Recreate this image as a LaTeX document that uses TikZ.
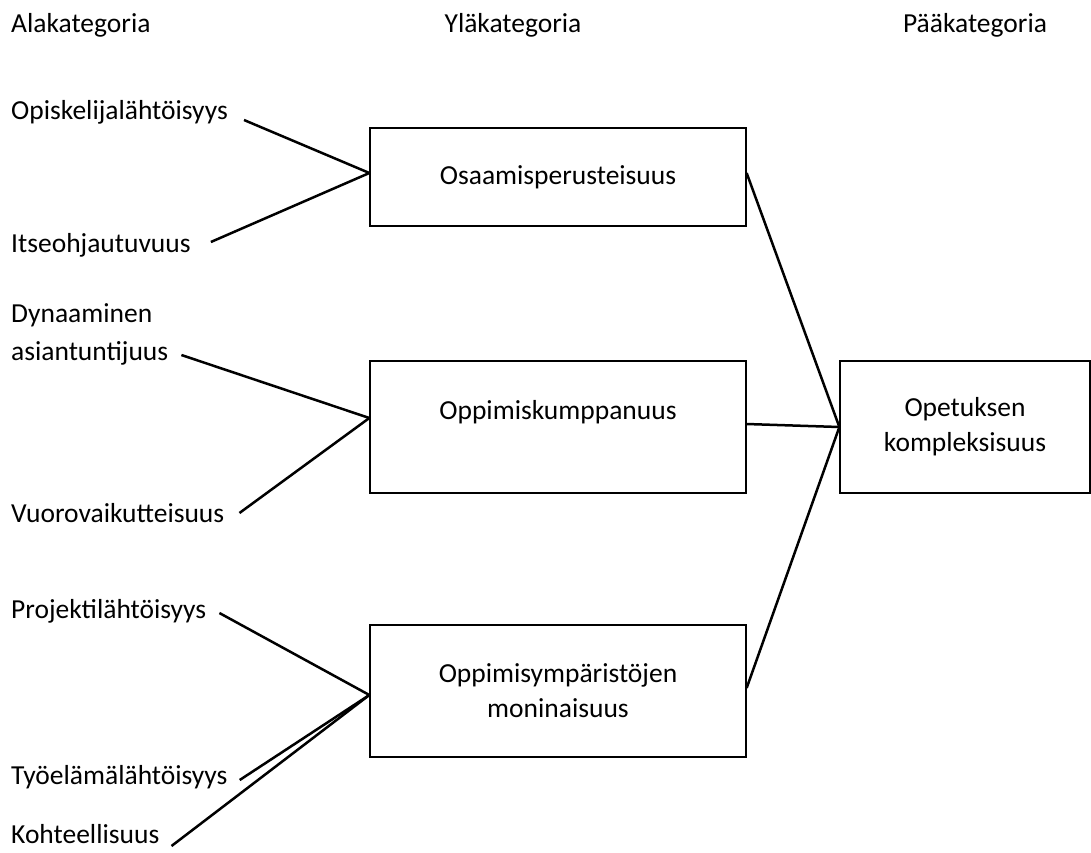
\documentclass[tikz,border=0pt]{standalone}
\usepackage{fontspec}
\setmainfont{Carlito}
\usetikzlibrary{positioning}

\begin{document}
\begin{tikzpicture}[x=1pt,y=-1pt,
  every node/.style={font=\fontsize{27.5}{35}\selectfont},
  lab/.style={anchor=west,inner sep=0pt,align=left},
  box/.style={draw,line width=1.3pt,minimum width=376pt,align=center},
  conn/.style={line width=2.5pt}]
  %%%%% START %%%%%
  \useasboundingbox (0,0) rectangle (1091,852);

  % headings
  \node[lab] (ala) at (11,25) {Alakategoria};
  \node (yla) at (513,25) {Yläkategoria};
  \node (paa) at (975,25) {Pääkategoria};

  % sub categories
  \node[lab] (opi) at (11,112) {Opiskelijalähtöisyys};
  \node[lab] (itse) at (11,245) {Itseohjautuvuus};
  \node[lab] (dyn) at (11,334) {Dynaaminen\\[3pt]asiantuntijuus};
  \node[lab] (vuo) at (11,513) {Vuorovaikutteisuus};
  \node[lab] (proj) at (11,611) {Projektilähtöisyys};
  \node[lab] (tyo) at (11,777) {Työelämälähtöisyys};
  \node[lab] (koh) at (11,834) {Kohteellisuus};

  % upper categories
  \node[box,minimum height=98pt] (osa) at (558,177) {Osaamisperusteisuus};
  \node[box,minimum height=132pt] (kump) at (558,427) {Oppimiskumppanuus\\\mbox{}};
  \node[box,minimum height=132pt] (ymp) at (558,691) {Oppimisympäristöjen\\moninaisuus};

  % main category
  \node[box,minimum width=250pt,minimum height=132pt] (kom) at (965,427) {Opetuksen\\kompleksisuus};

  \draw[conn] ([xshift=16pt,yshift=-8pt]opi.east) -- ([yshift=4pt]osa.west);
  \draw[conn] ([xshift=20pt,yshift=3pt]itse.east) -- ([yshift=4pt]osa.west);

  \draw[conn] ([xshift=13pt,yshift=-21pt]dyn.east) -- ([yshift=9pt]kump.west);
  \draw[conn] ([xshift=15pt]vuo.east) -- ([yshift=9pt]kump.west);

  \draw[conn] ([xshift=13pt,yshift=-2pt]proj.east) -- ([yshift=-4pt]ymp.west);
  \draw[conn] ([xshift=12pt,yshift=-3pt]tyo.east) -- ([yshift=-4pt]ymp.west);
  \draw[conn] ([xshift=12pt,yshift=-12pt]koh.east) -- ([yshift=-4pt]ymp.west);

  \draw[conn] ([yshift=4pt]osa.east) -- (kom.west);
  \draw[conn] ([yshift=3pt]kump.east) -- (kom.west);
  \draw[conn] ([yshift=3pt]ymp.east) -- (kom.west);
  %%%%% END %%%%%
\end{tikzpicture}
\end{document}
